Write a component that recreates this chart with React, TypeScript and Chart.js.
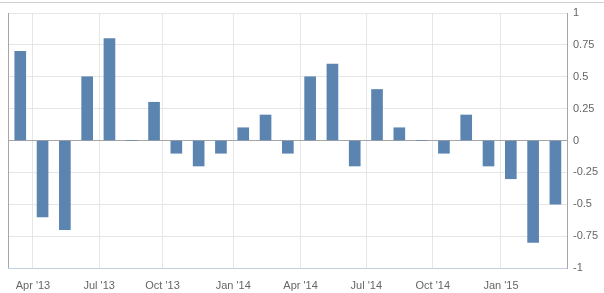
import React, { useEffect, useRef } from "react";
import { Chart, registerables } from "chart.js";

Chart.register(...registerables);

// Months from Mar 2013 to Mar 2015 (index 0 = Mar '13)
const months = [
  "Mar 2013", "Apr 2013", "May 2013", "Jun 2013", "Jul 2013", "Aug 2013", "Sep 2013",
  "Oct 2013", "Nov 2013", "Dec 2013", "Jan 2014", "Feb 2014", "Mar 2014", "Apr 2014",
  "May 2014", "Jun 2014", "Jul 2014", "Aug 2014", "Sep 2014", "Oct 2014", "Nov 2014",
  "Dec 2014", "Jan 2015", "Feb 2015", "Mar 2015",
];
const values = [
  0.7, -0.6, -0.7, 0.5, 0.8, 0, 0.3, -0.1, -0.2, -0.1, 0.1, 0.2, -0.1,
  0.5, 0.6, -0.2, 0.4, 0.1, 0, -0.1, 0.2, -0.2, -0.3, -0.8, -0.5,
];
// x-axis tick labels and their positions in month-index units
const tickLabels = ["Apr '13", "Jul '13", "Oct '13", "Jan '14", "Apr '14", "Jul '14", "Oct '14", "Jan '15"];
const tickPositions = [0.57, 3.54, 6.38, 9.55, 12.57, 15.52, 18.5, 21.56];
const yTicks = [-1, -0.75, -0.5, -0.25, 0, 0.25, 0.5, 0.75, 1];

const edgeLines = {
  id: "edgeLines",
  afterDraw(chart: any) {
    const { ctx, chartArea } = chart;
    ctx.save();
    ctx.strokeStyle = "#a6a6a6";
    ctx.lineWidth = 1;
    ctx.beginPath();
    const x = Math.round(chartArea.left) + 0.5;
    ctx.moveTo(x, chartArea.top);
    ctx.lineTo(x, chartArea.bottom);
    ctx.stroke();
    ctx.restore();
  },
};

export default function App() {
  const ref = useRef<HTMLCanvasElement | null>(null);
  useEffect(() => {
    document.body.style.margin = "0";
    if (!ref.current) return;
    const chart = new Chart(ref.current, {
      type: "bar",
      data: {
        datasets: [
          {
            label: months.join(","),
            data: values.map((v, i) => ({ x: i, y: v })),
            backgroundColor: "#5b84b0",
            barThickness: 11,
            borderWidth: 0,
          },
        ],
      },
      options: {
        responsive: false,
        animation: false,
        layout: { padding: { left: 8, top: 13, right: 0, bottom: 0 } },
        plugins: { legend: { display: false }, tooltip: { enabled: false } },
        scales: {
          x: {
            type: "linear",
            offset: false,
            min: -0.55,
            max: 24.52,
            afterBuildTicks: (s: any) => {
              s.ticks = tickPositions.map((v) => ({ value: v }));
            },
            afterFit: (s: any) => {
              s.height = 25;
            },
            grid: { color: "#e6e6e6", drawTicks: false, offset: false },
            border: { color: "#c0d0e0", width: 1 },
            ticks: {
              autoSkip: false,
              maxRotation: 0,
              padding: 11,
              color: "#666666",
              font: { family: "'Liberation Sans', Arial, sans-serif", size: 11 },
              callback: (_v: any, i: number) => tickLabels[i],
            },
          },
          y: {
            position: "right",
            min: -1,
            max: 1,
            afterBuildTicks: (s: any) => {
              s.ticks = yTicks.map((v) => ({ value: v }));
            },
            afterFit: (s: any) => {
              s.width = 37;
            },
            grid: {
              drawTicks: false,
              color: (c: any) => (c.tick && c.tick.value === 0 ? "#a6a6a6" : "#e6e6e6"),
            },
            border: { color: "#a6a6a6", width: 1 },
            ticks: {
              padding: 6,
              color: "#666666",
              font: { family: "'Liberation Sans', Arial, sans-serif", size: 11 },
              callback: (v: any) => String(v),
            },
          },
        },
      },
      plugins: [edgeLines],
    });
    return () => chart.destroy();
  }, []);
  return (
    <div style={{ position: "relative", width: 604, height: 293 }}>
      <div
        style={{
          position: "absolute",
          left: 0,
          top: 2,
          width: 604,
          height: 1,
          background: "#d0d0d0",
        }}
      />
      <canvas ref={ref} width={604} height={293} />
    </div>
  );
}
